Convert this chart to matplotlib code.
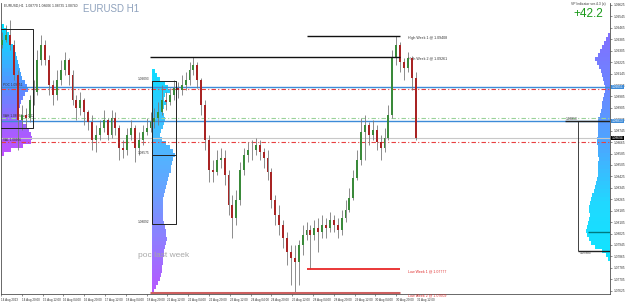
import numpy as np
import matplotlib
matplotlib.use("Agg")
import matplotlib.pyplot as plt
from matplotlib.colors import LinearSegmentedColormap
import matplotlib.transforms as mtransforms

plt.rcParams['font.family'] = ['Liberation Sans', 'DejaVu Sans']

# ---------------- data (3-hour candles) ----------------
open0 = 1.09345
closes = [1.09380, 1.09415, 1.09345, 1.09135, 1.08820, 1.08855, 1.08834, 1.08960, 1.09016, 1.09240,
          1.09345, 1.09240, 1.09065, 1.08995, 1.09100, 1.09170, 1.09240, 1.09135, 1.08960, 1.08904,
          1.08960, 1.08876, 1.08806, 1.08680, 1.08715, 1.08764, 1.08820, 1.08715, 1.08834, 1.08764,
          1.08624, 1.08610, 1.08715, 1.08764, 1.08624, 1.08680, 1.08736, 1.08764, 1.08806, 1.08834,
          1.08876, 1.08960, 1.08946, 1.08995, 1.09044, 1.09030, 1.09065, 1.09100, 1.09170, 1.09205,
          1.09100, 1.08925, 1.08680, 1.08470, 1.08456, 1.08540, 1.08554, 1.08435, 1.08225, 1.08134,
          1.08260, 1.08470, 1.08575, 1.08610, 1.08610, 1.08645, 1.08596, 1.08554, 1.08456, 1.08260,
          1.08155, 1.08085, 1.07994, 1.07896, 1.07854, 1.07826, 1.07945, 1.08015, 1.08050, 1.08015,
          1.08064, 1.08036, 1.08085, 1.08064, 1.08120, 1.08085, 1.08050, 1.08134, 1.08190, 1.08274,
          1.08414, 1.08540, 1.08736, 1.08785, 1.08715, 1.08750, 1.08666, 1.08624, 1.08694, 1.08855,
          1.09254, 1.09345, 1.09226, 1.09184, 1.09254, 1.09114, 1.08694]
highs = [1.09436, 1.09485, 1.09520, 1.09380, 1.09170, 1.08925, 1.08904, 1.08995, 1.09100, 1.09310,
         1.09415, 1.09380, 1.09275, 1.09100, 1.09170, 1.09240, 1.09296, 1.09254, 1.09170, 1.08995,
         1.09016, 1.08974, 1.08890, 1.08855, 1.08785, 1.08820, 1.08890, 1.08834, 1.08890, 1.08876,
         1.08785, 1.08680, 1.08764, 1.08820, 1.08785, 1.08736, 1.08785, 1.08834, 1.08876, 1.08904,
         1.08946, 1.09065, 1.09016, 1.09044, 1.09100, 1.09086, 1.09135, 1.09156, 1.09226, 1.09261,
         1.09226, 1.09114, 1.08960, 1.08715, 1.08540, 1.08610, 1.08624, 1.08610, 1.08470, 1.08295,
         1.08330, 1.08526, 1.08624, 1.08666, 1.08680, 1.08694, 1.08680, 1.08624, 1.08610, 1.08484,
         1.08295, 1.08225, 1.08120, 1.08036, 1.07945, 1.07945, 1.07980, 1.08085, 1.08106, 1.08085,
         1.08120, 1.08134, 1.08155, 1.08134, 1.08176, 1.08155, 1.08134, 1.08190, 1.08260, 1.08344,
         1.08470, 1.08610, 1.08834, 1.08855, 1.08806, 1.08820, 1.08785, 1.08715, 1.08764, 1.08925,
         1.09310, 1.09408, 1.09366, 1.09254, 1.09296, 1.09268, 1.09156]
lows = [1.09324, 1.09366, 1.09310, 1.09100, 1.08610, 1.08750, 1.08764, 1.08806, 1.08925, 1.08995,
        1.09205, 1.09205, 1.08995, 1.08925, 1.08960, 1.09065, 1.09135, 1.09065, 1.08925, 1.08820,
        1.08855, 1.08785, 1.08750, 1.08610, 1.08596, 1.08680, 1.08736, 1.08680, 1.08694, 1.08715,
        1.08540, 1.08554, 1.08575, 1.08680, 1.08526, 1.08575, 1.08645, 1.08715, 1.08736, 1.08764,
        1.08785, 1.08855, 1.08890, 1.08925, 1.08960, 1.08974, 1.08995, 1.09030, 1.09065, 1.09135,
        1.09044, 1.08855, 1.08610, 1.08386, 1.08386, 1.08435, 1.08484, 1.08365, 1.08155, 1.07994,
        1.08085, 1.08225, 1.08435, 1.08526, 1.08540, 1.08575, 1.08540, 1.08484, 1.08400, 1.08204,
        1.08085, 1.08015, 1.07924, 1.07805, 1.07665, 1.07609, 1.07665, 1.07875, 1.07980, 1.07777,
        1.07980, 1.07896, 1.07994, 1.07994, 1.08036, 1.08036, 1.07994, 1.08015, 1.08106, 1.08176,
        1.08260, 1.08400, 1.08505, 1.08540, 1.08645, 1.08680, 1.08610, 1.08540, 1.08596, 1.08680,
        1.08834, 1.09205, 1.09156, 1.09100, 1.09156, 1.09030, 1.08680]

bar_hours = 3
x_labels = ["14 Aug 2023", "14 Aug 20:00", "15 Aug 12:00", "16 Aug 04:00", "16 Aug 20:00",
            "17 Aug 12:00", "18 Aug 04:00", "18 Aug 20:00", "21 Aug 12:00", "22 Aug 04:00",
            "22 Aug 20:00", "23 Aug 12:00", "24 Aug 04:00", "24 Aug 20:00", "25 Aug 12:00",
            "28 Aug 04:00", "28 Aug 20:00", "29 Aug 12:00", "30 Aug 04:00", "30 Aug 20:00",
            "31 Aug 12:00"]
x_label_step = 16  # hourly bars between labels

y_ticks = [1.09625, 1.09545, 1.09465, 1.09385, 1.09305, 1.09225, 1.09145, 1.09065, 1.08985,
           1.08905, 1.08825, 1.08745, 1.08665, 1.08585, 1.08505, 1.08425, 1.08345, 1.08265,
           1.08185, 1.08105, 1.08025, 1.07945, 1.07865, 1.07785, 1.07705, 1.07625]

# weekly levels
high_week1, high_week2 = 1.09408, 1.09261
low_week1, low_week2 = 1.07777, 1.07609
week1_start, week2_start, week_end = 235.4, 114.6, 306.9

# full-width levels
blue_levels = [1.09051, 1.08813]
red_levels = [1.09040, 1.08666]
green_level = 1.08834
bid = 1.08694

# volume profiles
left_top, mid_top, right_top, prof_step = 1.09478, 1.09163, 1.09415, 0.00028
left_vol = [3, 6, 8, 9, 10, 12, 13, 15, 16, 17, 18, 19, 20, 21, 24, 26, 27, 24, 22, 20, 19, 18,
            17, 18, 22, 26, 28, 30, 31, 30, 22, 10, 3]
mid_vol = [3, 5, 8, 13, 16, 18, 13, 12, 14, 12, 11, 12, 13, 12, 11, 9, 8, 10, 14, 18, 21, 23, 21,
           20, 19, 19, 17, 16, 15, 14, 13, 12, 11, 11, 11, 11, 11, 11, 12, 13, 14, 14, 15, 14, 13,
           12, 12, 11, 11, 10, 10, 9, 8, 6, 4, 2]
right_vol = [2, 4, 6, 8, 10, 13, 16, 14, 11, 9, 8, 7, 6, 5, 5, 6, 7, 8, 8, 9, 10, 12, 13, 13, 12,
             13, 14, 14, 13, 12, 12, 11, 12, 12, 13, 13, 14, 15, 16, 17, 19, 20, 21, 22, 22, 21,
             22, 23, 24, 25, 24, 22, 20, 16, 8, 4, 2]

# boxes (value areas)
left_box = (1.09457, 1.08764)
mid_box = (1.09093, 1.08575, 1.08092)
right_box = (1.08813, 1.07903)
teal_level = 1.08036

# ---------------- figure ----------------
W, H = 625, 308
fig = plt.figure(figsize=(W / 100, H / 100), dpi=100)
fig.patch.set_facecolor("white")
ax_l, ax_r, ax_t, ax_b = 0.5, 610, 3, 294
ax = fig.add_axes([ax_l / W, 1 - ax_b / H, (ax_r - ax_l) / W, (ax_b - ax_t) / H])
px_per_bar = 1.3
def px2bar(px):
    return (px - 1) / px_per_bar
x0, x1 = px2bar(ax_l), px2bar(ax_r)
ax.set_xlim(x0, x1)
ax.set_ylim(1.07602, 1.09639)

# volume profiles
def profile(vols, top, anchor, maxw_px, cmap, direction=1):
    vols = np.asarray(vols, float)
    n = len(vols)
    centers = top - prof_step * np.arange(n)
    w = vols / vols.max() * maxw_px / px_per_bar
    cols = cmap(np.linspace(0, 1, n))
    left = anchor if direction > 0 else anchor - w
    ax.barh(centers, w, left=left, height=prof_step, color=cols, linewidth=0, zorder=1)

cm_down = LinearSegmentedColormap.from_list("c", ["#00e0ff", "#30b8ff", "#5a8cff", "#9a64ff", "#c050ff"])
cm_mid = LinearSegmentedColormap.from_list("m", ["#10dcff", "#40c0ff", "#60a8ff", "#8c80ff", "#b658ff"])
cm_right = LinearSegmentedColormap.from_list("r", ["#8070ff", "#6a88ff", "#4aa8ff", "#20d8ff", "#10e4ff"])
profile(left_vol, left_top, x0, 31, cm_down)
profile(mid_vol, mid_top, px2bar(152), 23, cm_mid)
profile(right_vol, right_top, x1, 24, cm_right, direction=-1)

# full-width lines
for lv in blue_levels:
    ax.axhline(lv, color="#3d8bd8", lw=1.0, zorder=2)
for lv in red_levels:
    ax.axhline(lv, color="#e84040", lw=0.8, ls=(0, (4, 2, 1, 2)), zorder=2)
ax.axhline(green_level, color="#9ad29a", lw=0.8, ls=(0, (4, 2, 1, 2)), zorder=2)
ax.axhline(bid, color="#c8c8c8", lw=0.8, zorder=2)

# candles
n = len(closes)
opens = [open0] + closes[:-1]
xc = np.arange(n) * bar_hours + 1
for i in range(n):
    o, c, h, l = opens[i], closes[i], highs[i], lows[i]
    up = c >= o
    ax.vlines(xc[i], l, h, color="#7a7a7a", lw=0.6, zorder=3)
    col = "#3a8a3a" if up else "#a82424"
    ax.bar(xc[i], max(abs(c - o), 0.00003), bottom=min(o, c), width=1.5,
           color=col, linewidth=0, zorder=4)

# weekly high/low lines
ax.hlines(high_week1, week1_start, week_end, color="#111111", lw=1.0, zorder=5)
ax.hlines(high_week2, week2_start, week_end, color="#111111", lw=1.0, zorder=5)
ax.hlines(low_week1, week1_start, week_end, color="#e82828", lw=1.3, zorder=5)
ax.hlines(low_week2, week2_start, week_end, color="#cd6060", lw=2.2, zorder=5)
fs_small = 2.6
lx = px2bar(408)
ax.text(lx, high_week1, f"High Week 1 @ {high_week1:.5f}", fontsize=fs_small, color="#333333", va="top")
ax.text(lx, high_week2, f"High Week 2 @ {high_week2:.5f}", fontsize=fs_small, color="#333333", va="top")
ax.text(lx, low_week1, f"Low Week 1 @ {low_week1:.5f}", fontsize=fs_small, color="#e03030", va="top")
ax.text(lx, low_week2, f"Low Week 2 @ {low_week2:.5f}", fontsize=fs_small, color="#e03030", va="top",
        clip_on=False)

# boxes
ax.plot([x0, px2bar(33), px2bar(33), x0], [left_box[0], left_box[0], left_box[1], left_box[1]],
        color="#222222", lw=0.7, zorder=5)
bx0, bx1 = px2bar(152), px2bar(176)
ax.plot([bx0, bx1, bx1, bx0, bx0], [mid_box[0], mid_box[0], mid_box[2], mid_box[2], mid_box[0]],
        color="#222222", lw=0.7, zorder=5)
ax.hlines(mid_box[1], bx0, bx1, color="#222222", lw=0.7, zorder=5)
for v in mid_box:
    ax.text(px2bar(138), v, f"{v:.5f}", fontsize=2.3, color="#333333", va="bottom")
ax.hlines(right_box[0], px2bar(565), x1, color="#222222", lw=1.0, zorder=5)
ax.hlines(right_box[1], px2bar(578), x1, color="#222222", lw=1.0, zorder=5)
ax.vlines(px2bar(578), right_box[1], right_box[0], color="#222222", lw=0.6, zorder=5)
ax.hlines(teal_level, px2bar(588), x1, color="#007a80", lw=1.0, zorder=5)
ax.text(px2bar(566), right_box[0], f"{right_box[0]:.5f}", fontsize=2.3, color="#333333", va="bottom")
ax.text(px2bar(580), right_box[1], f"{right_box[1]:.5f}", fontsize=2.3, color="#333333", va="top")

# left labels
ax.text(px2bar(3), blue_levels[0], f"POC {blue_levels[0]:.5f}", fontsize=2.3, color="#333333", va="bottom")
ax.text(px2bar(3), green_level, f"VAH {green_level:.5f} val 0.12", fontsize=2.3, color="#333333", va="bottom")
ax.text(px2bar(3), red_levels[1], f"VAL {red_levels[1]:.5f}", fontsize=2.3, color="#333333", va="bottom")

ax.text(px2bar(138), 1.0787, "poc last week", fontsize=6, color="#a8a8a8", va="center")

# axes styling
for s in ax.spines.values():
    s.set_color("#505050")
    s.set_linewidth(0.6)
ax.spines["top"].set_visible(False)
ax.yaxis.tick_right()
ax.set_yticks(y_ticks)
ax.set_yticklabels([f"{v:.5f}" for v in y_ticks], fontsize=2.3, color="#333333")
ax.tick_params(axis="y", length=1.5, width=0.4, pad=0.8, colors="#333333")
xt = np.arange(len(x_labels)) * x_label_step
ax.set_xticks(xt)
ax.set_xticklabels(x_labels, fontsize=2.2, color="#333333", ha="left")
ax.tick_params(axis="x", length=1.5, width=0.4, pad=1.5, colors="#333333")

# price tags on the right axis
tr = mtransforms.blended_transform_factory(ax.transAxes, ax.transData)
for v, fc in [(blue_levels[0], "#3d8bd8"), (blue_levels[1], "#3d8bd8"), (bid, "#000000")]:
    ax.text(1.003, v, f"{v:.5f}", transform=tr, fontsize=2.3, color="white", va="center", ha="left",
            bbox=dict(boxstyle="square,pad=0.15", fc=fc, ec="none"), clip_on=False, zorder=10)

# header texts
fig.text(4 / W, 1 - 6 / H, "EURUSD,H1  1.08770 1.08606 1.08735 1.08740", fontsize=2.4, color="#333333", va="center")
fig.text(83 / W, 1 - 9.5 / H, "EURUSD H1", fontsize=7, color="#8fa2bd", va="center")
fig.text(603 / W, 1 - 14 / H, "+42.2", fontsize=8.5, color="#1a9a1a", va="center", ha="right")
fig.text(606 / W, 1 - 4 / H, "VP Indicator ver.4.3 (c)", fontsize=2.4, color="#333333", va="center", ha="right")

fig.savefig("out.png", dpi=100, facecolor="white")
